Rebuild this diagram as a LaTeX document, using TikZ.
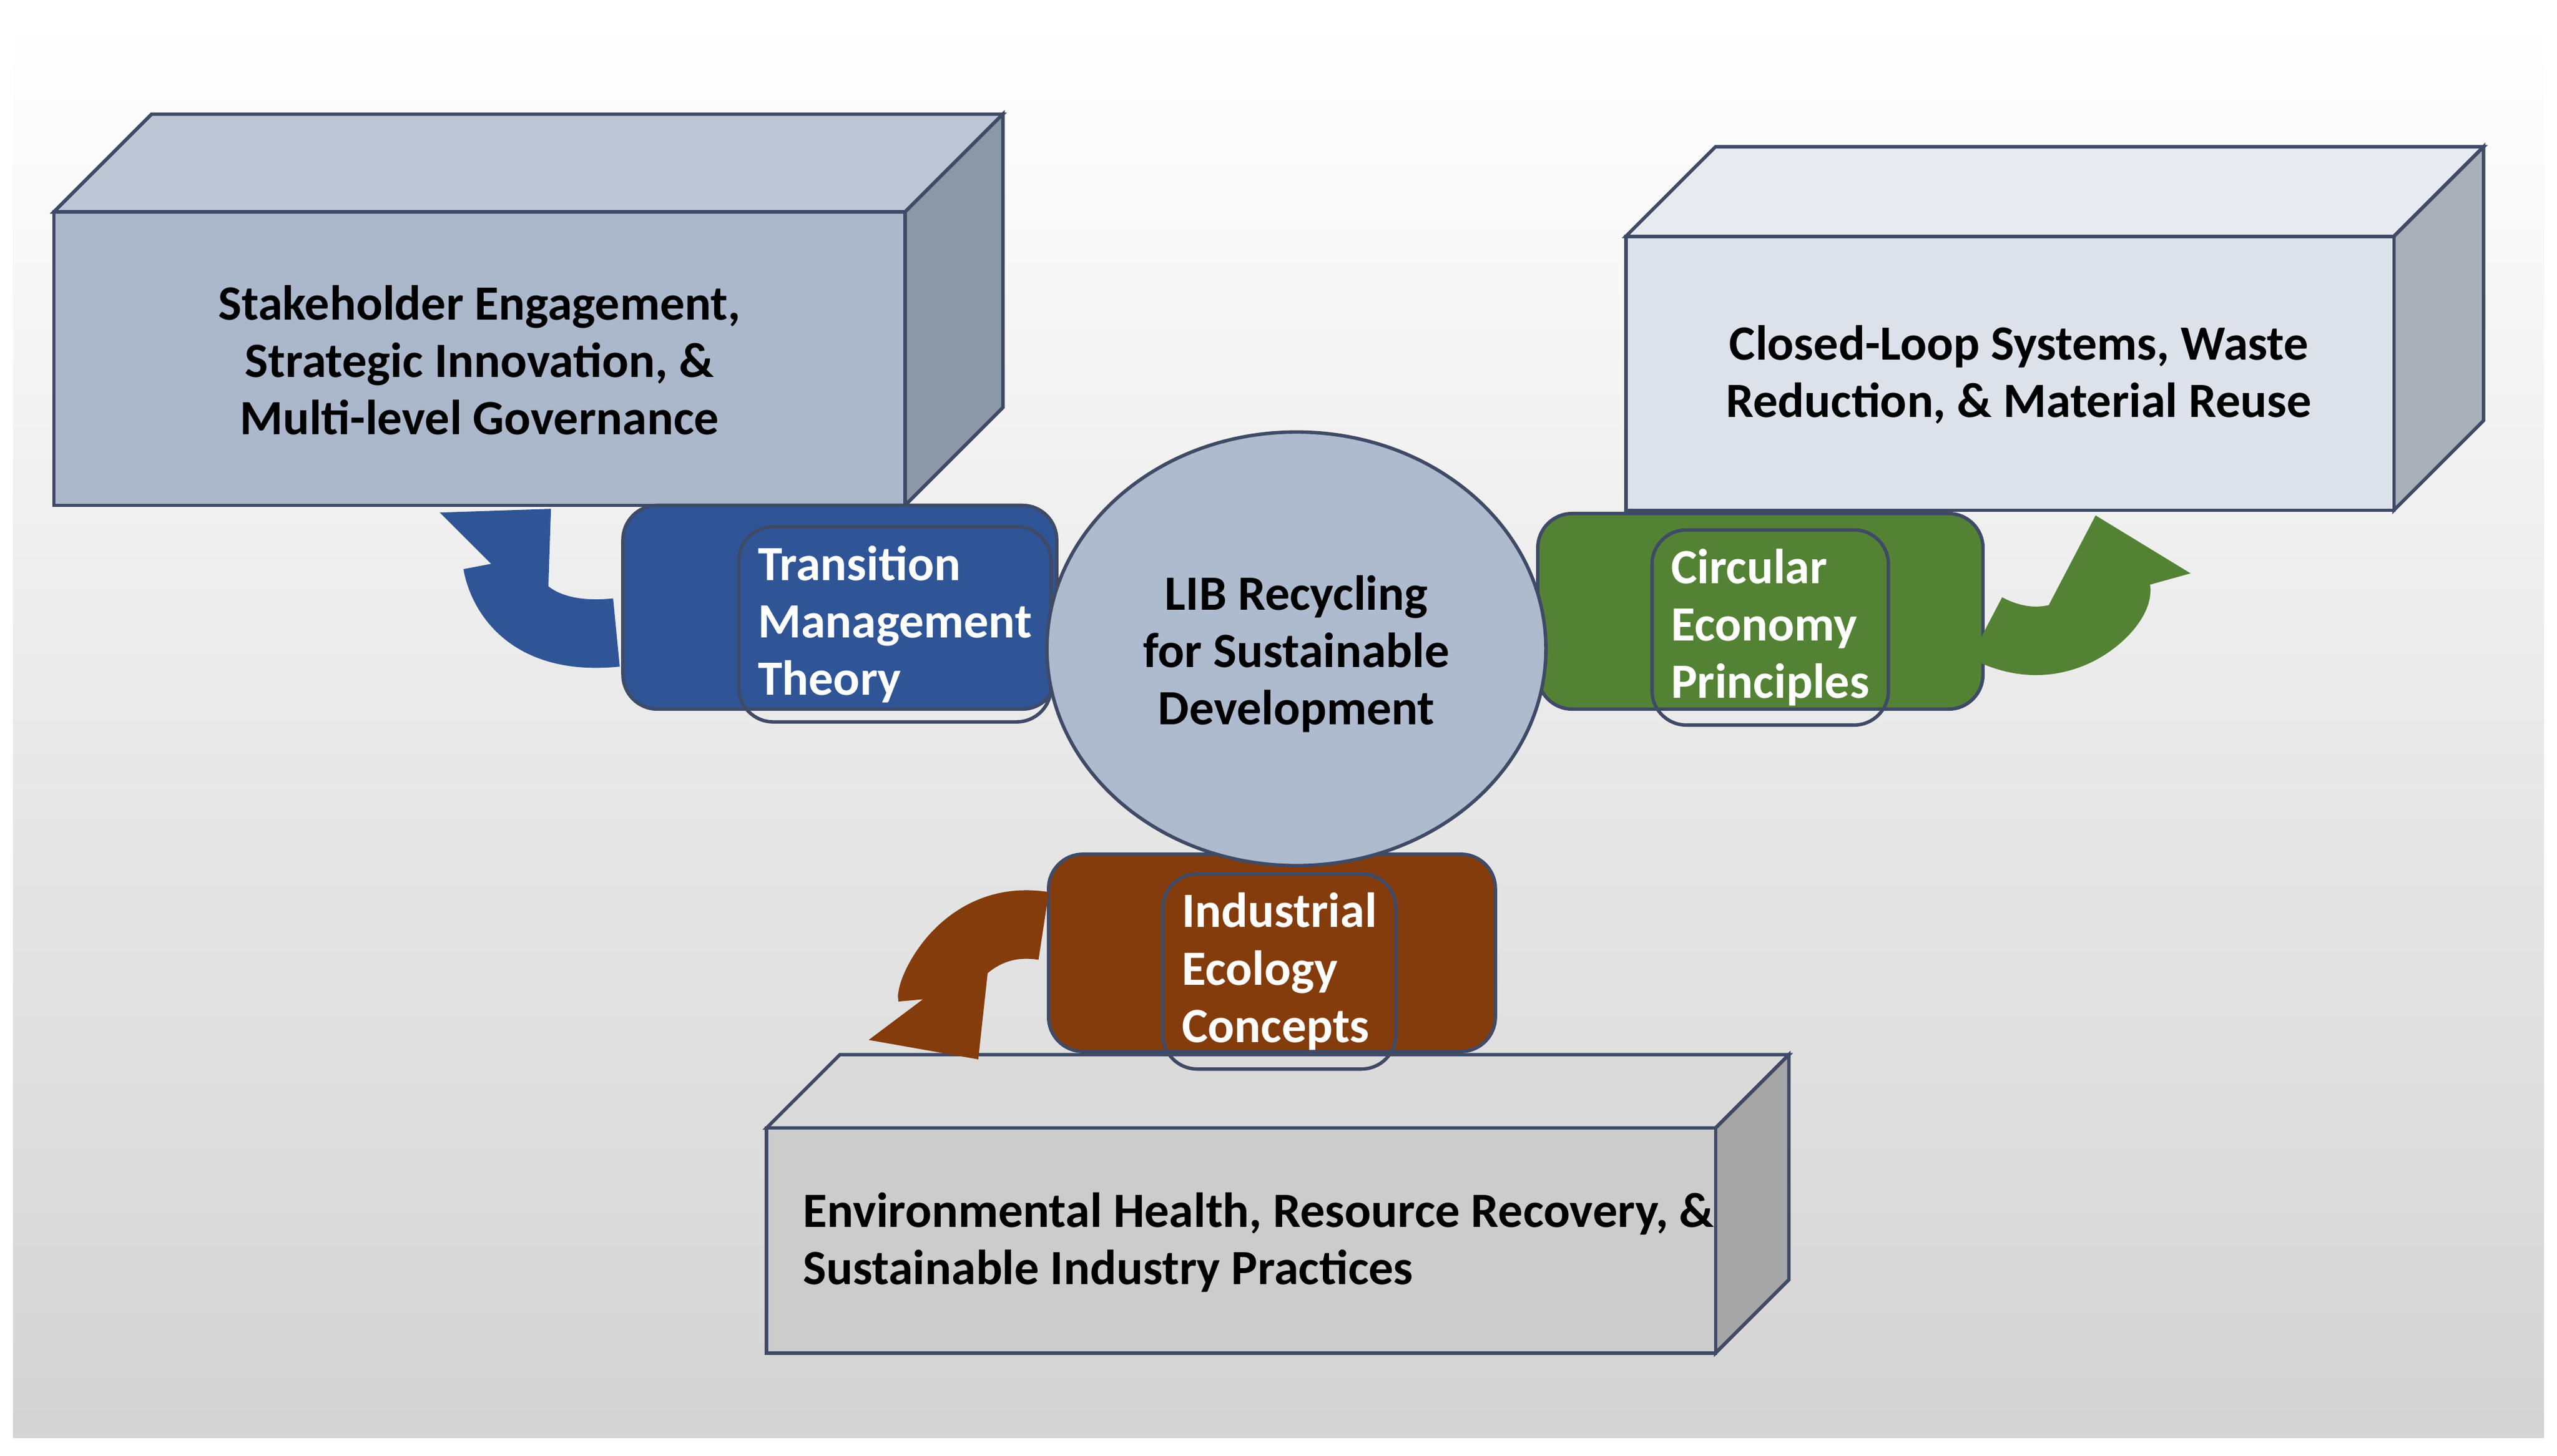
\documentclass[tikz,border=0pt]{standalone}
\usepackage{fontspec}
\setmainfont{Carlito}
\usetikzlibrary{arrows.meta}
\definecolor{frontA}{HTML}{ABB7CB}\definecolor{topA}{HTML}{BDC6D4}\definecolor{sideA}{HTML}{8C97A7}
\definecolor{frontB}{HTML}{DDE2EA}\definecolor{topB}{HTML}{E7EAF0}\definecolor{sideB}{HTML}{AAB0B9}
\definecolor{frontC}{HTML}{CCCCCC}\definecolor{topC}{HTML}{DADADA}\definecolor{sideC}{HTML}{A6A6A6}
\definecolor{edge}{HTML}{3F4A66}
\definecolor{tmblue}{HTML}{2F5597}\definecolor{cegreen}{HTML}{548235}\definecolor{iebrown}{HTML}{843C0C}
\definecolor{hub}{HTML}{AEBACD}
\tikzset{
  face/.style={draw=edge,line width=0.6pt},
  boxtext/.style={font=\bfseries\fontsize{8.6}{10}\selectfont,text=black,align=center},
  theory/.style={rounded corners=6pt,draw=edge,line width=0.6pt,text=white,
    font=\bfseries\fontsize{8.6}{10}\selectfont,align=left,anchor=north west},
  turn/.style={line width=4.2mm,-{Triangle[length=5mm,width=9mm]}}
}
\begin{document}
\begin{tikzpicture}[x=0.01cm,y=-0.01cm]
  \useasboundingbox (0,0) rectangle (1568,893);
  \shade[top color=white,bottom color=black!17] (8,10) rectangle (1560,882); % fondo
  % blocco in alto a sinistra
  \draw[face,fill=topA] (33,130) -- (93,70) -- (615,70) -- (555,130) -- cycle;
  \draw[face,fill=sideA] (555,130) -- (615,70) -- (615,250) -- (555,310) -- cycle;
  \draw[face,fill=frontA] (33,130) rectangle (555,310);
  \node[boxtext] (gov) at (294,221) {Stakeholder Engagement,\\Strategic Innovation, \&\\Multi-level Governance};
  % blocco in alto a destra
  \draw[face,fill=topB] (997,145) -- (1052,90) -- (1523,90) -- (1468,145) -- cycle;
  \draw[face,fill=sideB] (1468,145) -- (1523,90) -- (1523,258) -- (1468,313) -- cycle;
  \draw[face,fill=frontB] (997,145) rectangle (1468,313);
  \node[boxtext] (loop) at (1238,230) {Closed-Loop Systems, Waste\\Reduction, \& Material Reuse};
  % blocco in basso
  \draw[face,fill=topC] (470,692) -- (515,647) -- (1097,647) -- (1052,692) -- cycle;
  \draw[face,fill=sideC] (1052,692) -- (1097,647) -- (1097,785) -- (1052,830) -- cycle;
  \draw[face,fill=frontC] (470,692) rectangle (1052,830);
  \node[boxtext,align=left,anchor=west] (env) at (480,762) {Environmental Health, Resource Recovery, \&\\Sustainable Industry Practices};
  % teorie
  \draw[theory,fill=tmblue] (382,310) rectangle (648,435);
  \node[theory] (tm) at (452,322) {Transition\\Management\\Theory};
  \draw[theory,fill=cegreen] (943,315) rectangle (1216,435);
  \node[theory] (ce) at (1012,324) {Circular\\Economy\\Principles};
  \draw[theory,fill=iebrown] (643,524) rectangle (917,645);
  \node[theory] (ie) at (712,535) {Industrial\\Ecology\\Concepts};
  % nodo centrale
  \draw[face,fill=hub] (795,398) ellipse (153 and 133);
  \node[boxtext] (lib) at (795,401) {LIB Recycling\\for Sustainable\\Development};
  % frecce curve
  \draw[turn,tmblue] (378,388) .. controls (310,395) and (305,345) .. (338,312);
  \draw[turn,cegreen] (1218,385) .. controls (1265,410) and (1300,370) .. (1285,316);
  \draw[turn,iebrown] (640,568) .. controls (590,560) and (570,610) .. (600,650);
\end{tikzpicture}
\end{document}
